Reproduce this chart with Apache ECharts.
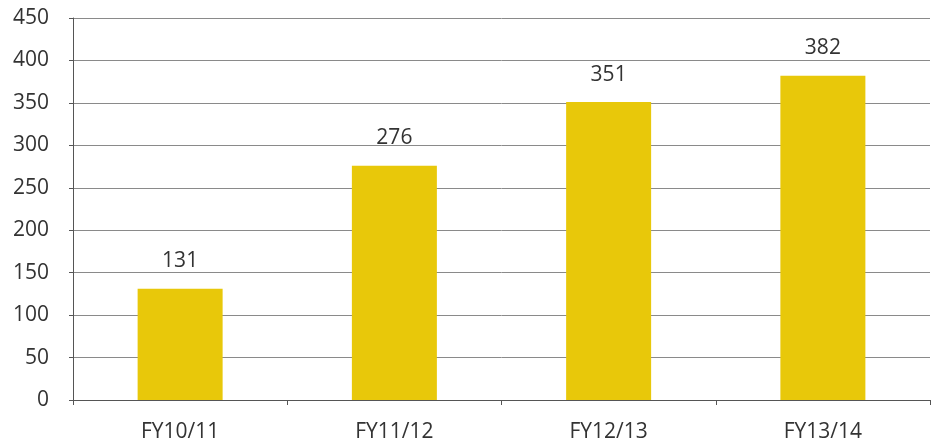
<!DOCTYPE html>
<html lang="en">
<head>
    <meta charset="UTF-8">
    <title>FY Bar Chart</title>
    <script src="https://cdn.jsdelivr.net/npm/echarts@6/dist/echarts.min.js"></script>
    <style>
        body { margin: 0; background: #fff; }
        #chart { width: 931px; height: 448px; }
    </style>
</head>
<body>
<div id="chart"></div>
<script>
    const categories = ['FY10/11', 'FY11/12', 'FY12/13', 'FY13/14'];
    const values = [131, 276, 351, 382];

    const myChart = echarts.init(document.getElementById('chart'));
    const option = {
        backgroundColor: '#ffffff',
        animation: false,
        grid: { left: 73, right: 1, top: 18, bottom: 48 },
        xAxis: {
            type: 'category',
            data: categories,
            axisLine: { lineStyle: { color: '#555', width: 1 } },
            axisTick: { show: true, length: 5, lineStyle: { color: '#555' } },
            axisLabel: {
                color: '#333',
                fontSize: 21,
                fontFamily: 'Open Sans',
                margin: 22
            }
        },
        yAxis: {
            type: 'value',
            min: 0,
            max: 450,
            interval: 50,
            axisLine: { show: true, lineStyle: { color: '#555', width: 1 } },
            axisTick: { show: true, length: 4, lineStyle: { color: '#555' } },
            splitLine: { lineStyle: { color: '#8a8a8a', width: 1 } },
            axisLabel: {
                color: '#333',
                fontSize: 21,
                fontFamily: 'Open Sans',
                margin: 24
            }
        },
        series: [{
            type: 'bar',
            data: values,
            barWidth: 85,
            itemStyle: { color: '#E8C80A' },
            label: {
                show: true,
                position: 'top',
                distance: 17,
                color: '#333',
                fontSize: 21,
                fontFamily: 'Open Sans'
            }
        }]
    };
    myChart.setOption(option);
</script>
</body>
</html>
